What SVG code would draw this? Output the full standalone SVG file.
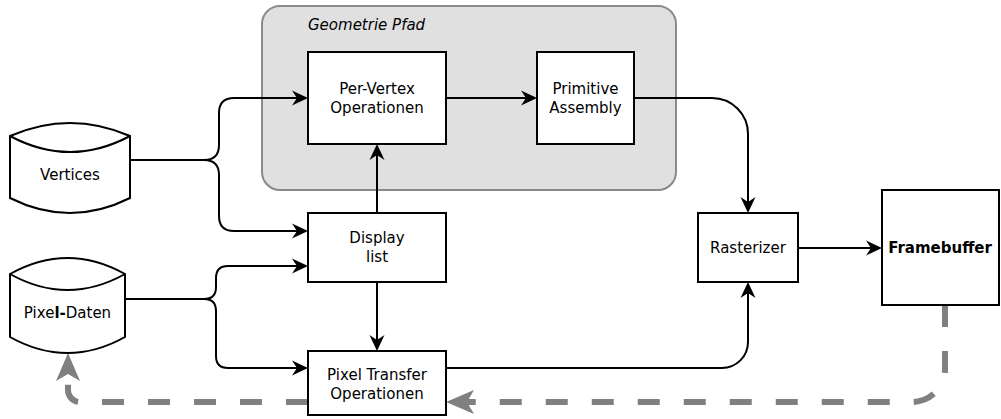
<svg xmlns="http://www.w3.org/2000/svg" width="1001" height="419" viewBox="0 0 1001 419">
  <style>
    .box { fill: #ffffff; stroke: #000000; stroke-width: 2; }
    .lbl { font-family: "DejaVu Sans", "Liberation Sans", sans-serif; font-size: 15px; fill: #000000; text-anchor: middle; }
    .edge { fill: none; stroke: #000000; stroke-width: 2; marker-end: url(#arrow); }
    .feedback { fill: none; stroke: #808080; stroke-width: 6; stroke-dasharray: 22 24; marker-end: url(#arrowGray); }
  </style>
  <defs>
    <marker id="arrow" markerUnits="userSpaceOnUse" viewBox="-12 -9 18 18" refX="0" refY="0" markerWidth="18" markerHeight="18" orient="auto">
      <path d="M5,0 L-11,-7.5 L-6,0 L-11,7.5 Z" fill="#000000"/>
    </marker>
    <marker id="arrowGray" markerUnits="userSpaceOnUse" viewBox="-22 -13 32 26" refX="0" refY="0" markerWidth="32" markerHeight="26" orient="auto">
      <path d="M8,0 L-20,-12 L-13,0 L-20,12 Z" fill="#808080"/>
    </marker>
  </defs>

  <!-- geometry pipeline container -->
  <g id="geometrie-pfad">
    <rect x="262" y="6" width="414" height="184" rx="18" ry="18" fill="#e0e0e0" stroke="#8a8a8a" stroke-width="2"/>
    <text x="308" y="30" font-family="DejaVu Sans, Liberation Sans, sans-serif" font-size="15" font-style="italic">Geometrie Pfad</text>
  </g>

  <!-- connectors -->
  <g id="connectors">
    <path class="edge" d="M130,160 H204 Q219,160 219,145 V113 Q219,98 234,98 H303"/>
    <path class="edge" d="M130,160 H204 Q219,160 219,175 V216 Q219,231 234,231 H303"/>
    <path class="edge" d="M125,299 H204 Q216,299 216,287 V278 Q216,266 228,266 H303"/>
    <path class="edge" d="M125,299 H204 Q216,299 216,311 V356 Q216,368 228,368 H303"/>
    <path class="edge" d="M446,98 H532"/>
    <path class="edge" d="M634,98 H712 A36,36 0 0 1 748,134 V208"/>
    <path class="edge" d="M377,213 V149"/>
    <path class="edge" d="M377,282 V346"/>
    <path class="edge" d="M446,368 H722 A26,26 0 0 0 748,342 V287"/>
    <path class="edge" d="M798,248 H877"/>
    <path class="feedback" d="M945,305 V369 A33,33 0 0 1 912,402 H454"/>
    <path class="feedback" d="M308,402 H80 A12,12 0 0 1 68,390 V361"/>
  </g>

  <g id="vertices">
    <path class="box" d="M10,136 Q70,110 130,136 L130,198 Q70,228 10,198 Z M10,136 Q70,168 130,136"/>
    <text class="lbl" x="70" y="180">Vertices</text>
  </g>

  <g id="pixel-daten">
    <path class="box" d="M10,274 Q67.5,242 125,274 L125,337 Q67.5,369 10,337 Z M10,274 Q67.5,306 125,274"/>
    <text class="lbl" x="67.5" y="318">Pixe<tspan font-weight="bold">l-</tspan>Daten</text>
  </g>

  <g id="per-vertex">
    <rect class="box" x="308" y="52" width="138" height="92"/>
    <text class="lbl" x="377" y="94">Per-Vertex</text>
    <text class="lbl" x="377" y="112.5">Operationen</text>
  </g>

  <g id="primitive-assembly">
    <rect class="box" x="537" y="52" width="97" height="92"/>
    <text class="lbl" x="585.5" y="94">Primitive</text>
    <text class="lbl" x="585.5" y="112.5">Assembly</text>
  </g>

  <g id="display-list">
    <rect class="box" x="308" y="213" width="138" height="69"/>
    <text class="lbl" x="377" y="243">Display</text>
    <text class="lbl" x="377" y="262">list</text>
  </g>

  <g id="pixel-transfer">
    <rect class="box" x="308" y="351" width="138" height="64"/>
    <text class="lbl" x="377" y="380">Pixel Transfer</text>
    <text class="lbl" x="377" y="399">Operationen</text>
  </g>

  <g id="rasterizer">
    <rect class="box" x="698" y="213" width="100" height="69"/>
    <text class="lbl" x="748" y="253">Rasterizer</text>
  </g>

  <g id="framebuffer">
    <rect class="box" x="882" y="190" width="117" height="115"/>
    <text class="lbl" x="940" y="253" font-weight="bold">Framebuffer</text>
  </g>
</svg>
